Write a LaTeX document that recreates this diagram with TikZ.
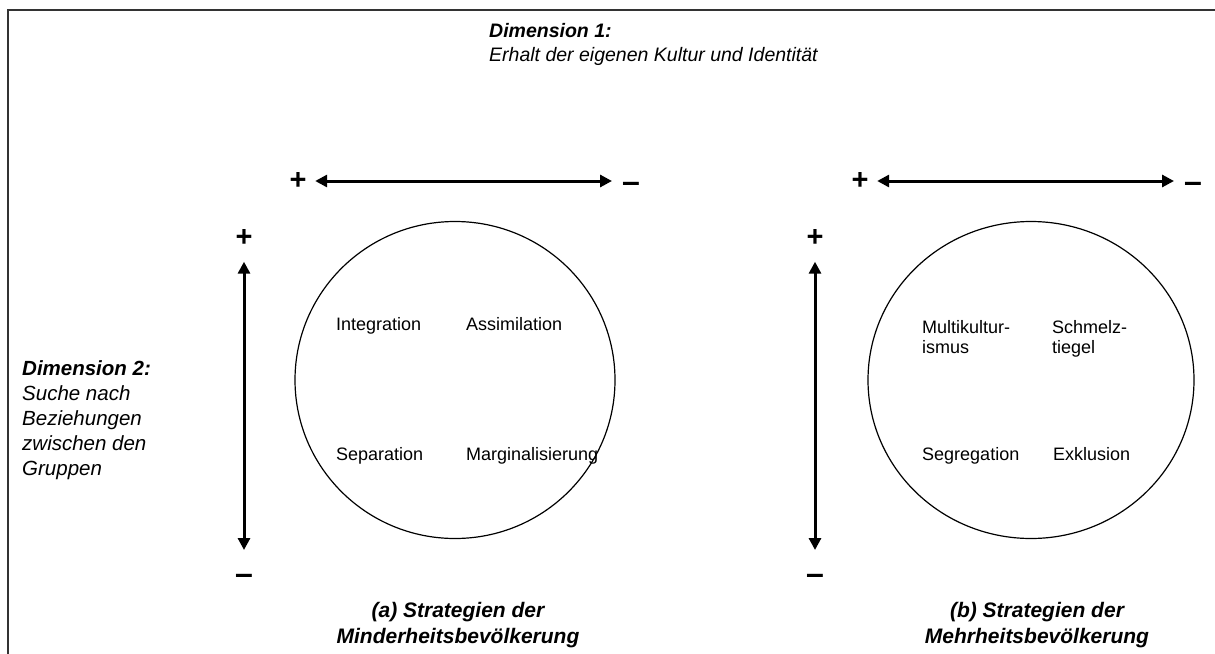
\documentclass[tikz,border=0pt]{standalone}
\usepackage{fontspec}
\setmainfont{Liberation Sans}
\usetikzlibrary{positioning, shapes.geometric, arrows.meta}

\begin{document}
\begin{tikzpicture}[x=1pt, y=-1pt,
  txt/.style = {font=\fontsize{18}{20}\selectfont, inner sep=0pt, anchor=base west, align=left},
  dim/.style = {font=\fontsize{20.5}{25}\selectfont\itshape, inner sep=0pt, anchor=base west, align=left},
  capt/.style = {font=\fontsize{21}{26}\selectfont\bfseries\itshape, inner sep=0pt, anchor=base, align=center},
  plus/.style = {font=\fontsize{29}{29}\selectfont\bfseries, inner sep=0pt},
  minus/.style = {font=\fontsize{32}{32}\selectfont\bfseries, inner sep=0pt},
  ring/.style = {draw, ellipse, line width=1.2pt, minimum width=320pt, minimum height=317pt},
  dimarrow/.style = {{Triangle[length=12pt,width=12pt]}-{Triangle[length=12pt,width=12pt]}, line width=3pt},
  harrow/.style = {dimarrow, shorten <=8.5pt, shorten >=19pt},
  varrow/.style = {dimarrow, shorten <=15pt, shorten >=29pt}]
\useasboundingbox (0,0) rectangle (1215,653);
\draw[line width=1.8pt, black!80] (1225,10) -- (8,10) -- (8,665);

% dimensions
\node[dim, font=\fontsize{19.5}{24}\selectfont\itshape] (dimA) at (489,61) {\textbf{Dimension 1:}\\Erhalt der eigenen Kultur und Identität};
\node[dim] (dimB) at (22,475) {\textbf{Dimension 2:}\\Suche nach\\Beziehungen\\zwischen den\\Gruppen};

% (a) minority
\node[plus] (plusA) at (298,181) {+};
\node[minus] (minusA) at (631,187) {--};
\node[plus] (plusC) at (244,238) {+};
\node[minus] (minusC) at (244,579) {--};
\node[ring] (ringA) at (455,380) {};
\node[txt] (integ) at (336,330) {Integration};
\node[txt] (assim) at (466,330) {Assimilation};
\node[txt] (separ) at (336,460) {Separation};
\node[txt] (margi) at (466,460) {Marginalisierung};
\node[capt] (captA) at (458,643) {(a) Strategien der\\Minderheitsbevölkerung};

% (b) majority
\node[plus] (plusB) at (860,181) {+};
\node[minus] (minusB) at (1193,187) {--};
\node[plus] (plusD) at (815,238) {+};
\node[minus] (minusD) at (815,579) {--};
\node[ring, minimum width=326pt] (ringB) at (1031,380) {};
\node[txt] (multi) at (922,353) {Multikultur-\\ismus};
\node[txt] (schme) at (1052,353) {Schmelz-\\tiegel};
\node[txt] (segre) at (922,460) {Segregation};
\node[txt] (exklu) at (1053,460) {Exklusion};
\node[capt] (captB) at (1037,643) {(b) Strategien der\\Mehrheitsbevölkerung};

\draw[harrow] (plusA) -- (plusA -| minusA);
\draw[varrow] (plusC) -- (plusC |- minusC);
\draw[harrow] (plusB) -- (plusB -| minusB);
\draw[varrow] (plusD) -- (plusD |- minusD);
\end{tikzpicture}
\end{document}
